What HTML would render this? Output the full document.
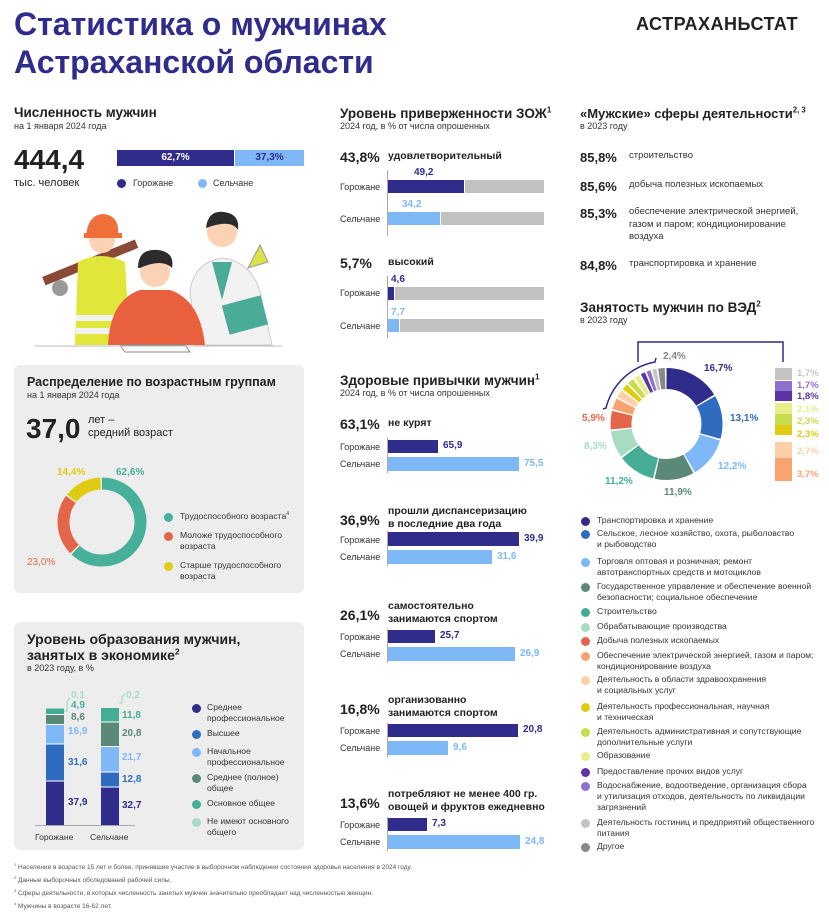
<!DOCTYPE html>
<html><head><meta charset="utf-8">
<style>
*{margin:0;padding:0;box-sizing:border-box}
body{width:829px;height:919px;background:#fff;position:relative;overflow:hidden;font-family:"Liberation Sans","Noto Sans CJK SC",sans-serif;color:#222}
.a{position:absolute;white-space:nowrap}
.h{font-weight:bold;font-size:13.5px;color:#222}
.s{font-size:9px;color:#333}
.big{font-weight:bold;font-size:14px}
.lbl{font-size:9px;color:#333}
.bar{position:absolute;height:13px}
.nv{background:#2f2c8c}.lb{background:#7eb8f6}.gr{background:#c1c1c1}
.dot{position:absolute;width:9px;height:9px;border-radius:50%}
.lg{font-size:8.6px;line-height:11px;color:#333}
.box{position:absolute;background:#ededed;border-radius:6px}
sup{font-size:0.6em;line-height:0}
</style></head><body>
<div class="a" style="left:14px;top:5px;font-weight:bold;font-size:32px;line-height:38px;color:#2f2c8c">Статистика о мужчинах<br>Астраханской области</div>
<div class="a" style="left:636px;top:14px;font-weight:bold;font-size:18px;color:#222;letter-spacing:0.5px">АСТРАХАНЬСТАТ</div>

<!-- section 1 -->
<div class="a h" style="left:14px;top:105px">Численность мужчин</div>
<div class="a s" style="left:14px;top:121px">на 1 января 2024 года</div>
<div class="a" style="left:14px;top:144px;font-weight:bold;font-size:28px">444,4</div>
<div class="a" style="left:14px;top:177px;font-size:11px">тыс. человек</div>
<div class="bar nv" style="left:117px;top:150px;width:117px;height:16px;color:#fff;font-size:10px;font-weight:bold;text-align:center;line-height:16px">62,7%</div>
<div class="bar lb" style="left:235px;top:150px;width:69px;height:16px;color:#2f2c8c;font-size:10px;font-weight:bold;text-align:center;line-height:16px">37,3%</div>
<div class="dot" style="left:117px;top:179px;background:#2f2c8c"></div>
<div class="a lbl" style="left:133px;top:178px">Горожане</div>
<div class="dot" style="left:198px;top:179px;background:#7eb8f6"></div>
<div class="a lbl" style="left:213px;top:178px">Сельчане</div>

<svg class="a" style="left:0;top:200px" width="330" height="160" viewBox="0 200 330 160">
 <path d="M190 290 Q195 262 222 258 Q255 262 262 300 L272 345 L195 345 Z" fill="#f2f2f2" stroke="#ccc"/>
 <path d="M212 262 L222 300 L232 262 Z" fill="#4aab96"/>
 <circle cx="222" cy="232" r="15" fill="#fbd3b4"/>
 <path d="M206 228 Q208 210 224 212 Q240 214 238 230 Q232 220 212 226 Z" fill="#2b2b2b"/>
 <path d="M248 268 L260 245 L268 262 Z" fill="#dde24a" stroke="#999"/>
 <rect x="225" y="300" width="40" height="30" fill="#4aab96" transform="rotate(-15 245 315)"/>
 <rect x="40" y="258" width="100" height="9" fill="#8a4a36" transform="rotate(-22 90 262)"/>
 <path d="M78 262 Q100 250 125 262 L130 345 L75 345 Z" fill="#e0e63a"/>
 <rect x="76" y="315" width="54" height="6" fill="#f2f2f2"/>
 <rect x="76" y="328" width="54" height="6" fill="#f2f2f2"/>
 <circle cx="102" cy="240" r="13" fill="#fbd3b4"/>
 <path d="M86 236 Q88 214 104 214 Q120 216 118 236 Z" fill="#ef6f3a"/>
 <rect x="84" y="233" width="38" height="5" fill="#ef6f3a"/>
 <circle cx="60" cy="288" r="8" fill="#999"/>
 <path d="M108 345 Q110 300 140 290 L170 290 Q200 300 205 345 Z" fill="#e9603f"/>
 <circle cx="155" cy="272" r="15" fill="#fbd3b4"/>
 <path d="M138 268 Q138 248 158 250 Q175 252 172 268 Q162 258 140 268 Z" fill="#2b2b2b"/>
 <path d="M120 345 L185 345 L190 352 L125 352 Z" fill="#fff" stroke="#888"/>
 <line x1="35" y1="346" x2="282" y2="346" stroke="#bbb"/>
</svg>

<!-- age panel -->
<div class="box" style="left:14px;top:365px;width:290px;height:228px"></div>
<div class="a h" style="left:27px;top:375px;font-size:12.5px">Распределение по возрастным группам</div>
<div class="a s" style="left:27px;top:390px">на 1 января 2024 года</div>
<div class="a" style="left:26px;top:413px;font-weight:bold;font-size:28px">37,0</div>
<div class="a" style="left:88px;top:414px;font-size:11px;line-height:13px">лет –<br>средний возраст</div>
<svg class="a" style="left:0;top:0" width="330" height="919">
 <g transform="rotate(-90 102 522)" fill="none" stroke-width="12">
  <circle cx="102" cy="522" r="38.5" pathLength="100" stroke="#47b09a" stroke-dasharray="62 38" stroke-dashoffset="0"/>
  <circle cx="102" cy="522" r="38.5" pathLength="100" stroke="#e4664a" stroke-dasharray="22.4 77.6" stroke-dashoffset="-62.6"/>
  <circle cx="102" cy="522" r="38.5" pathLength="100" stroke="#dfcc12" stroke-dasharray="13.8 86.2" stroke-dashoffset="-85.6"/>
 </g>
</svg>
<div class="a" style="left:57px;top:467px;font-size:10px;font-weight:bold;color:#dfcc12">14,4%</div>
<div class="a" style="left:116px;top:467px;font-size:10px;font-weight:bold;color:#47b09a">62,6%</div>
<div class="a" style="left:27px;top:557px;font-size:10px;color:#e4664a">23,0%</div>
<div class="dot" style="left:164px;top:513px;background:#47b09a"></div>
<div class="a lg" style="left:180px;top:511px">Трудоспособного возраста<sup>4</sup></div>
<div class="dot" style="left:164px;top:532px;background:#e4664a"></div>
<div class="a lg" style="left:180px;top:530px">Моложе трудоспособного<br>возраста</div>
<div class="dot" style="left:164px;top:562px;background:#dfcc12"></div>
<div class="a lg" style="left:180px;top:560px">Старше трудоспособного<br>возраста</div>

<!-- education panel -->
<div class="box" style="left:14px;top:622px;width:290px;height:228px"></div>
<div class="a" style="left:27px;top:631px;font-weight:bold;font-size:14px;line-height:16px">Уровень образования мужчин,<br>занятых в экономике<sup>2</sup></div>
<div class="a s" style="left:27px;top:663px">в 2023 году, в %</div>
<svg class="a" style="left:0;top:0" width="330" height="919">
 <rect x="46" y="781" width="18" height="44" fill="#2f2c8c"/>
 <rect x="46" y="744" width="18" height="37" fill="#2f6cc0"/>
 <rect x="46" y="724.5" width="18" height="19.5" fill="#7eb8f6"/>
 <rect x="46" y="714.5" width="18" height="10" fill="#5a8a77"/>
 <rect x="46" y="708.5" width="18" height="6" fill="#45ad95"/>
 <rect x="101" y="787" width="18" height="38" fill="#2f2c8c"/>
 <rect x="101" y="772" width="18" height="15" fill="#2f6cc0"/>
 <rect x="101" y="746.5" width="18" height="25.5" fill="#7eb8f6"/>
 <rect x="101" y="722" width="18" height="24.5" fill="#5a8a77"/>
 <rect x="101" y="708" width="18" height="14" fill="#45ad95"/>
 <g stroke="#fff" stroke-width="1"><line x1="46" y1="781" x2="64" y2="781"/><line x1="46" y1="744" x2="64" y2="744"/><line x1="46" y1="724.5" x2="64" y2="724.5"/><line x1="46" y1="714.5" x2="64" y2="714.5"/>
 <line x1="101" y1="787" x2="119" y2="787"/><line x1="101" y1="772" x2="119" y2="772"/><line x1="101" y1="746.5" x2="119" y2="746.5"/><line x1="101" y1="722" x2="119" y2="722"/></g>
 <line x1="35" y1="825.5" x2="135" y2="825.5" stroke="#aaa"/>
 <polyline points="64,711 67,711 67,701 70,698" fill="none" stroke="#9dd7bf"/>
 <polyline points="119,703 122,703 122,697 125,694" fill="none" stroke="#9dd7bf"/>
</svg>
<div class="a" style="left:71px;top:690px;font-size:10px;font-weight:bold;color:#a8dcc2">0,1</div>
<div class="a" style="left:71px;top:700px;font-size:10px;font-weight:bold;color:#45ad95">4,9</div>
<div class="a" style="left:71px;top:712px;font-size:10px;font-weight:bold;color:#5a8a77">8,6</div>
<div class="a" style="left:68px;top:726px;font-size:10px;font-weight:bold;color:#7eb8f6">16,9</div>
<div class="a" style="left:68px;top:757px;font-size:10px;font-weight:bold;color:#2f6cc0">31,6</div>
<div class="a" style="left:68px;top:797px;font-size:10px;font-weight:bold;color:#2f2c8c">37,9</div>
<div class="a" style="left:126px;top:690px;font-size:10px;font-weight:bold;color:#a8dcc2">0,2</div>
<div class="a" style="left:122px;top:710px;font-size:10px;font-weight:bold;color:#45ad95">11,8</div>
<div class="a" style="left:122px;top:728px;font-size:10px;font-weight:bold;color:#5a8a77">20,8</div>
<div class="a" style="left:122px;top:752px;font-size:10px;font-weight:bold;color:#7eb8f6">21,7</div>
<div class="a" style="left:122px;top:774px;font-size:10px;font-weight:bold;color:#2f6cc0">12,8</div>
<div class="a" style="left:122px;top:800px;font-size:10px;font-weight:bold;color:#2f2c8c">32,7</div>
<div class="a lg" style="left:35px;top:832px">Горожане</div>
<div class="a lg" style="left:90px;top:832px">Сельчане</div>
<div class="dot" style="left:192px;top:704px;background:#2f2c8c"></div><div class="a lg" style="left:207px;top:702px">Среднее<br>профессиональное</div>
<div class="dot" style="left:192px;top:730px;background:#2f6cc0"></div><div class="a lg" style="left:207px;top:728px">Высшее</div>
<div class="dot" style="left:192px;top:748px;background:#7eb8f6"></div><div class="a lg" style="left:207px;top:746px">Начальное<br>профессиональное</div>
<div class="dot" style="left:192px;top:774px;background:#5a8a77"></div><div class="a lg" style="left:207px;top:772px">Среднее (полное)<br>общее</div>
<div class="dot" style="left:192px;top:800px;background:#45ad95"></div><div class="a lg" style="left:207px;top:798px">Основное общее</div>
<div class="dot" style="left:192px;top:818px;background:#a8dcc2"></div><div class="a lg" style="left:207px;top:816px">Не имеют основного<br>общего</div>

<div class="a" style="left:14px;top:861px;font-size:6.5px;line-height:13px;color:#555"><sup>1</sup> Население в возрасте 15 лет и более, принявшие участие в выборочном наблюдении состояния здоровья населения в 2024 году.<br><sup>2</sup> Данные выборочных обследований рабочей силы.<br><sup>3</sup> Сферы деятельности, в которых численность занятых мужчин значительно преобладает над численностью женщин.<br><sup>4</sup> Мужчины в возрасте 16-62 лет.</div>

<!-- middle column -->
<div class="a h" style="left:340px;top:106px">Уровень приверженности ЗОЖ<sup>1</sup></div>
<div class="a s" style="left:340px;top:121px">2024 год, в % от числа опрошенных</div>
<div class="a big" style="left:340px;top:149px">43,8%</div>
<div class="a" style="left:388px;top:150px;font-size:10.5px;font-weight:bold">удовлетворительный</div>
<div class="a" style="left:387px;top:170px;width:1px;height:66px;background:#aaa"></div>
<div class="a" style="left:414px;top:167px;font-size:10px;font-weight:bold;color:#2f2c8c">49,2</div>
<div class="a lbl" style="left:340px;top:182px">Горожане</div>
<div class="bar nv" style="left:388px;top:180px;width:76px"></div><div class="bar gr" style="left:465px;top:180px;width:79px"></div>
<div class="a" style="left:402px;top:199px;font-size:10px;font-weight:bold;color:#7eb8f6">34,2</div>
<div class="a lbl" style="left:340px;top:214px">Сельчане</div>
<div class="bar lb" style="left:388px;top:212px;width:52px"></div><div class="bar gr" style="left:441px;top:212px;width:103px"></div>
<div class="a big" style="left:340px;top:255px">5,7%</div>
<div class="a" style="left:388px;top:256px;font-size:10.5px;font-weight:bold">высокий</div>
<div class="a" style="left:387px;top:276px;width:1px;height:62px;background:#aaa"></div>
<div class="a" style="left:391px;top:274px;font-size:10px;font-weight:bold;color:#2f2c8c">4,6</div>
<div class="a lbl" style="left:340px;top:288px">Горожане</div>
<div class="bar nv" style="left:388px;top:287px;width:6px"></div><div class="bar gr" style="left:395px;top:287px;width:149px"></div>
<div class="a" style="left:391px;top:307px;font-size:10px;font-weight:bold;color:#7eb8f6">7,7</div>
<div class="a lbl" style="left:340px;top:321px">Сельчане</div>
<div class="bar lb" style="left:388px;top:319px;width:11px"></div><div class="bar gr" style="left:400px;top:319px;width:144px"></div>

<div class="a h" style="left:340px;top:373px">Здоровые привычки мужчин<sup>1</sup></div>
<div class="a s" style="left:340px;top:388px">2024 год, в % от числа опрошенных</div>

<div class="a big" style="left:340px;top:416px">63,1%</div>
<div class="a" style="left:388px;top:417px;font-size:10.5px;font-weight:bold">не курят</div>
<div class="a" style="left:387px;top:438px;width:1px;height:35px;background:#aaa"></div>
<div class="a lbl" style="left:340px;top:442px">Горожане</div><div class="bar nv" style="left:388px;top:440px;width:50px"></div><div class="a" style="left:443px;top:440px;font-size:10px;font-weight:bold;color:#2f2c8c">65,9</div>
<div class="a lbl" style="left:340px;top:459px">Сельчане</div><div class="bar lb" style="left:388px;top:457px;width:131px;height:14px"></div><div class="a" style="left:524px;top:458px;font-size:10px;font-weight:bold;color:#7eb8f6">75,5</div>

<div class="a big" style="left:340px;top:512px">36,9%</div>
<div class="a" style="left:388px;top:505px;font-size:10.5px;font-weight:bold;line-height:13px">прошли диспансеризацию<br>в последние два года</div>
<div class="a" style="left:387px;top:531px;width:1px;height:35px;background:#aaa"></div>
<div class="a lbl" style="left:340px;top:535px">Горожане</div><div class="bar nv" style="left:388px;top:532px;width:131px;height:14px"></div><div class="a" style="left:524px;top:533px;font-size:10px;font-weight:bold;color:#2f2c8c">39,9</div>
<div class="a lbl" style="left:340px;top:552px">Сельчане</div><div class="bar lb" style="left:388px;top:550px;width:104px;height:14px"></div><div class="a" style="left:497px;top:551px;font-size:10px;font-weight:bold;color:#7eb8f6">31,6</div>

<div class="a big" style="left:340px;top:607px">26,1%</div>
<div class="a" style="left:388px;top:600px;font-size:10.5px;font-weight:bold;line-height:13px">самостоятельно<br>занимаются спортом</div>
<div class="a" style="left:387px;top:629px;width:1px;height:34px;background:#aaa"></div>
<div class="a lbl" style="left:340px;top:632px">Горожане</div><div class="bar nv" style="left:388px;top:630px;width:47px"></div><div class="a" style="left:440px;top:630px;font-size:10px;font-weight:bold;color:#2f2c8c">25,7</div>
<div class="a lbl" style="left:340px;top:649px">Сельчане</div><div class="bar lb" style="left:388px;top:647px;width:127px;height:14px"></div><div class="a" style="left:520px;top:648px;font-size:10px;font-weight:bold;color:#7eb8f6">26,9</div>

<div class="a big" style="left:340px;top:701px">16,8%</div>
<div class="a" style="left:388px;top:694px;font-size:10.5px;font-weight:bold;line-height:13px">организованно<br>занимаются спортом</div>
<div class="a" style="left:387px;top:723px;width:1px;height:34px;background:#aaa"></div>
<div class="a lbl" style="left:340px;top:726px">Горожане</div><div class="bar nv" style="left:388px;top:724px;width:130px"></div><div class="a" style="left:523px;top:724px;font-size:10px;font-weight:bold;color:#2f2c8c">20,8</div>
<div class="a lbl" style="left:340px;top:743px">Сельчане</div><div class="bar lb" style="left:388px;top:741px;width:60px;height:14px"></div><div class="a" style="left:453px;top:742px;font-size:10px;font-weight:bold;color:#7eb8f6">9,6</div>

<div class="a big" style="left:340px;top:795px">13,6%</div>
<div class="a" style="left:388px;top:788px;font-size:10.5px;font-weight:bold;line-height:13px">потребляют не менее 400 гр.<br>овощей и фруктов ежедневно</div>
<div class="a" style="left:387px;top:817px;width:1px;height:34px;background:#aaa"></div>
<div class="a lbl" style="left:340px;top:820px">Горожане</div><div class="bar nv" style="left:388px;top:818px;width:39px"></div><div class="a" style="left:432px;top:818px;font-size:10px;font-weight:bold;color:#2f2c8c">7,3</div>
<div class="a lbl" style="left:340px;top:837px">Сельчане</div><div class="bar lb" style="left:388px;top:835px;width:132px;height:14px"></div><div class="a" style="left:525px;top:836px;font-size:10px;font-weight:bold;color:#7eb8f6">24,8</div>

<!-- right column -->
<div class="a h" style="left:580px;top:106px;font-size:13px">«Мужские» сферы деятельности<sup>2, 3</sup></div>
<div class="a s" style="left:580px;top:121px">в 2023 году</div>
<div class="a big" style="left:580px;top:150px;font-size:13px">85,8%</div><div class="a lg" style="left:629px;top:150px;font-size:9.5px">строительство</div>
<div class="a big" style="left:580px;top:179px;font-size:13px">85,6%</div><div class="a lg" style="left:629px;top:179px;font-size:9.5px">добыча полезных ископаемых</div>
<div class="a big" style="left:580px;top:206px;font-size:13px">85,3%</div><div class="a lg" style="left:629px;top:206px;font-size:9.5px;line-height:12.5px">обеспечение электрической энергией,<br>газом и паром; кондиционирование<br>воздуха</div>
<div class="a big" style="left:580px;top:258px;font-size:13px">84,8%</div><div class="a lg" style="left:629px;top:258px;font-size:9.5px">транспортировка и хранение</div>
<div class="a h" style="left:580px;top:300px">Занятость мужчин по ВЭД<sup>2</sup></div>
<div class="a s" style="left:580px;top:315px">в 2023 году</div>

<svg class="a" style="left:0;top:0" width="829" height="919">
 <g transform="rotate(-90 666.5 424)" fill="none" stroke-width="21">
  <circle cx="666.5" cy="424" r="45.5" pathLength="100" stroke="#2f2c8c" stroke-dasharray="16.2 83.8" stroke-dashoffset="0"/>
  <circle cx="666.5" cy="424" r="45.5" pathLength="100" stroke="#2f6cc0" stroke-dasharray="12.6 87.4" stroke-dashoffset="-16.7"/>
  <circle cx="666.5" cy="424" r="45.5" pathLength="100" stroke="#7eb8f6" stroke-dasharray="11.7 88.3" stroke-dashoffset="-29.8"/>
  <circle cx="666.5" cy="424" r="45.5" pathLength="100" stroke="#5a8a77" stroke-dasharray="11.4 88.6" stroke-dashoffset="-42"/>
  <circle cx="666.5" cy="424" r="45.5" pathLength="100" stroke="#45ad95" stroke-dasharray="10.7 89.3" stroke-dashoffset="-53.9"/>
  <circle cx="666.5" cy="424" r="45.5" pathLength="100" stroke="#a8dcc2" stroke-dasharray="7.8 92.2" stroke-dashoffset="-65.1"/>
  <circle cx="666.5" cy="424" r="45.5" pathLength="100" stroke="#e4664a" stroke-dasharray="5.4 94.6" stroke-dashoffset="-73.4"/>
  <circle cx="666.5" cy="424" r="45.5" pathLength="100" stroke="#f9a470" stroke-dasharray="3.2 96.8" stroke-dashoffset="-79.3"/>
  <circle cx="666.5" cy="424" r="45.5" pathLength="100" stroke="#fdd0a8" stroke-dasharray="2.2 97.8" stroke-dashoffset="-83"/>
  <circle cx="666.5" cy="424" r="45.5" pathLength="100" stroke="#dfcc12" stroke-dasharray="1.8 98.2" stroke-dashoffset="-85.7"/>
  <circle cx="666.5" cy="424" r="45.5" pathLength="100" stroke="#c8dc50" stroke-dasharray="1.8 98.2" stroke-dashoffset="-88"/>
  <circle cx="666.5" cy="424" r="45.5" pathLength="100" stroke="#e6ef8c" stroke-dasharray="1.6 98.4" stroke-dashoffset="-90.3"/>
  <circle cx="666.5" cy="424" r="45.5" pathLength="100" stroke="#5b35a5" stroke-dasharray="1.3 98.7" stroke-dashoffset="-92.4"/>
  <circle cx="666.5" cy="424" r="45.5" pathLength="100" stroke="#8b72cf" stroke-dasharray="1.2 98.8" stroke-dashoffset="-94.2"/>
  <circle cx="666.5" cy="424" r="45.5" pathLength="100" stroke="#c4c4c4" stroke-dasharray="1.2 98.8" stroke-dashoffset="-95.9"/>
  <circle cx="666.5" cy="424" r="45.5" pathLength="100" stroke="#888" stroke-dasharray="1.9 98.1" stroke-dashoffset="-97.6"/>
 </g>
 <path d="M603 409 L606 408 A62 62 0 0 1 655 362 L656 358" fill="none" stroke="#2f2c8c" stroke-width="1.5"/>
 <polyline points="638,362 638,342 783,342 783,362" fill="none" stroke="#2f2c8c" stroke-width="1.5"/>
 <rect x="775" y="368" width="17" height="12" fill="#c4c4c4"/>
 <rect x="775" y="381" width="17" height="10" fill="#8b72cf"/>
 <rect x="775" y="391" width="17" height="10" fill="#5b35a5"/>
 <rect x="775" y="403" width="17" height="11" fill="#e6ef8c"/>
 <rect x="775" y="414" width="17" height="11" fill="#c8dc50"/>
 <rect x="775" y="425" width="17" height="10" fill="#dfcc12"/>
 <rect x="775" y="442" width="17" height="16" fill="#fdd0a8"/>
 <rect x="775" y="458" width="17" height="23" fill="#f9a470"/>
</svg>
<div class="a" style="left:663px;top:351px;font-size:10px;font-weight:bold;color:#888">2,4%</div>
<div class="a" style="left:704px;top:363px;font-size:10px;font-weight:bold;color:#2f2c8c">16,7%</div>
<div class="a" style="left:730px;top:413px;font-size:10px;font-weight:bold;color:#2f6cc0">13,1%</div>
<div class="a" style="left:718px;top:461px;font-size:10px;font-weight:bold;color:#7eb8f6">12,2%</div>
<div class="a" style="left:664px;top:487px;font-size:10px;font-weight:bold;color:#5a8a77">11,9%</div>
<div class="a" style="left:605px;top:476px;font-size:10px;font-weight:bold;color:#45ad95">11,2%</div>
<div class="a" style="left:584px;top:441px;font-size:10px;font-weight:bold;color:#a8dcc2">8,3%</div>
<div class="a" style="left:582px;top:413px;font-size:10px;font-weight:bold;color:#e4664a">5,9%</div>
<div class="a" style="left:797px;top:368px;font-size:9.5px;font-weight:bold;color:#c4c4c4">1,7%</div>
<div class="a" style="left:797px;top:380px;font-size:9.5px;font-weight:bold;color:#8b72cf">1,7%</div>
<div class="a" style="left:797px;top:391px;font-size:9.5px;font-weight:bold;color:#5b35a5">1,8%</div>
<div class="a" style="left:797px;top:404px;font-size:9.5px;font-weight:bold;color:#e6ef8c">2,1%</div>
<div class="a" style="left:797px;top:416px;font-size:9.5px;font-weight:bold;color:#c8dc50">2,3%</div>
<div class="a" style="left:797px;top:429px;font-size:9.5px;font-weight:bold;color:#dfcc12">2,3%</div>
<div class="a" style="left:797px;top:446px;font-size:9.5px;font-weight:bold;color:#fdd0a8">2,7%</div>
<div class="a" style="left:797px;top:469px;font-size:9.5px;font-weight:bold;color:#f9a470">3,7%</div>

<div class="dot" style="left:581px;top:517px;background:#2f2c8c"></div><div class="a lg" style="left:597px;top:515px">Транспортировка и хранение</div>
<div class="dot" style="left:581px;top:530px;background:#2f6cc0"></div><div class="a lg" style="left:597px;top:528px">Сельское, лесное хозяйство, охота, рыболовство<br>и рыбоводство</div>
<div class="dot" style="left:581px;top:558px;background:#7eb8f6"></div><div class="a lg" style="left:597px;top:556px">Торговля оптовая и розничная; ремонт<br>автотранспортных средств и мотоциклов</div>
<div class="dot" style="left:581px;top:583px;background:#5a8a77"></div><div class="a lg" style="left:597px;top:581px">Государственное управление и обеспечение военной<br>безопасности;  социальное обеспечение</div>
<div class="dot" style="left:581px;top:608px;background:#45ad95"></div><div class="a lg" style="left:597px;top:606px">Строительство</div>
<div class="dot" style="left:581px;top:623px;background:#a8dcc2"></div><div class="a lg" style="left:597px;top:621px">Обрабатывающие производства</div>
<div class="dot" style="left:581px;top:637px;background:#e4664a"></div><div class="a lg" style="left:597px;top:635px">Добыча полезных ископаемых</div>
<div class="dot" style="left:581px;top:652px;background:#f9a470"></div><div class="a lg" style="left:597px;top:650px">Обеспечение электрической энергией, газом и паром;<br>кондиционирование воздуха</div>
<div class="dot" style="left:581px;top:676px;background:#fdd0a8"></div><div class="a lg" style="left:597px;top:674px">Деятельность в области здравоохранения<br>и социальных услуг</div>
<div class="dot" style="left:581px;top:703px;background:#dfcc12"></div><div class="a lg" style="left:597px;top:701px">Деятельность профессиональная, научная<br>и техническая</div>
<div class="dot" style="left:581px;top:728px;background:#c8dc50"></div><div class="a lg" style="left:597px;top:726px">Деятельность административная и сопутствующие<br>дополнительные услуги</div>
<div class="dot" style="left:581px;top:752px;background:#e6ef8c"></div><div class="a lg" style="left:597px;top:750px">Образование</div>
<div class="dot" style="left:581px;top:768px;background:#5b35a5"></div><div class="a lg" style="left:597px;top:766px">Предоставление прочих видов услуг</div>
<div class="dot" style="left:581px;top:782px;background:#8b72cf"></div><div class="a lg" style="left:597px;top:780px">Водоснабжение, водоотведение, организация сбора<br>и утилизация отходов, деятельность по ликвидации<br>загрязнений</div>
<div class="dot" style="left:581px;top:819px;background:#c4c4c4"></div><div class="a lg" style="left:597px;top:817px">Деятельность гостиниц и предприятий общественного<br>питания</div>
<div class="dot" style="left:581px;top:843px;background:#888"></div><div class="a lg" style="left:597px;top:841px">Другое</div>
</body></html>
